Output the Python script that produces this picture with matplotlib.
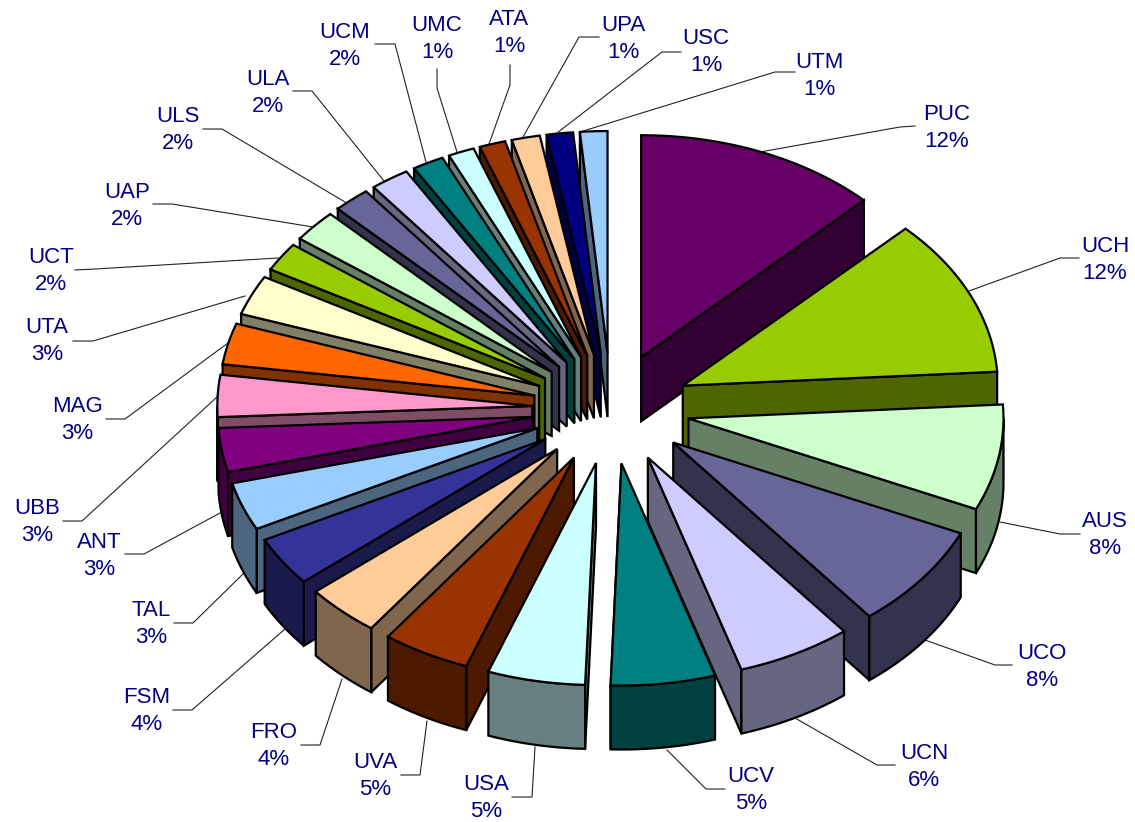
#!/usr/bin/env python3
import numpy as np
import matplotlib
matplotlib.use('Agg')
import matplotlib.pyplot as plt
from matplotlib.patches import Polygon

plt.rcParams['font.family'] = ['Liberation Sans', 'DejaVu Sans']

# data, clockwise from 12 o'clock
names = ['PUC', 'UCH', 'AUS', 'UCO', 'UCN', 'UCV', 'USA', 'UVA', 'FRO', 'FSM', 'TAL', 'ANT', 'UBB',
         'MAG', 'UTA', 'UCT', 'UAP', 'ULS', 'ULA', 'UCM', 'UMC', 'ATA', 'UPA', 'USC', 'UTM']
values = [12.5, 11.5, 7.7, 7.6, 5.9, 5.35, 5.0, 4.5, 3.85, 3.6, 3.5, 3.2, 3.05,
          3.0, 2.9, 2.1, 2.35, 1.9, 2.0, 1.62, 1.34, 1.34, 1.45, 1.35, 1.4]
pct_labels = ['12%', '12%', '8%', '8%', '6%', '5%', '5%', '5%', '4%', '4%', '3%', '3%', '3%',
              '3%', '3%', '2%', '2%', '2%', '2%', '2%', '1%', '1%', '1%', '1%', '1%']
colors = ['#660066', '#99CC00', '#CCFFCC', '#666699', '#CCCCFF', '#008080', '#CCFFFF', '#993300',
          '#FFCC99', '#333399', '#99CCFF', '#800080', '#FF99CC', '#FF6600', '#FFFFCC', '#99CC00',
          '#CCFFCC', '#666699', '#CCCCFF', '#008080', '#CCFFFF', '#993300', '#FFCC99', '#000080',
          '#99CCFF']

# layout in pixels
CX, CY = 611, 408.5
RX, RY = 315, 222
EXPLODE = 0.25
DEPTH = 64
label_xy = [(947, 128), (1105, 260), (1105, 535), (1042, 667), (924, 767), (751, 790), (486, 798),
            (375, 776), (274, 746), (147, 711), (151, 624), (99, 556), (37, 522), (77, 420),
            (47, 341), (51, 271), (127, 206), (178, 130), (268, 93), (345, 46), (437, 39),
            (509, 33), (623, 39), (706, 52), (819, 76)]
leaders = [
    [(915, 126), (900, 127), (760, 152)], [(1079, 258), (1060, 258), (969, 291)],
    [(1080, 534), (1060, 534), (1000, 522)], [(1012, 665), (995, 665), (925, 640)],
    [(895, 765), (877, 765), (795, 718)], [(725, 789), (706, 789), (667, 750)],
    [(512, 797), (532, 797), (535, 747)], [(401, 775), (420, 775), (427, 721)],
    [(301, 745), (320, 745), (342, 679)], [(173, 710), (192, 710), (285, 629)],
    [(174, 623), (193, 623), (243, 574)], [(125, 554), (144, 554), (220, 513)],
    [(63, 521), (82, 521), (217, 397)], [(106, 419), (125, 419), (228, 343)],
    [(73, 341), (93, 341), (245, 296)], [(75, 270), (95, 269), (278, 258)],
    [(153, 204), (172, 204), (313, 227)], [(203, 129), (222, 129), (345, 202)],
    [(293, 91), (312, 91), (384, 181)], [(375, 44), (395, 44), (426, 162)],
    [(437, 69), (437, 88), (457, 152)], [(510, 65), (510, 85), (489, 144)],
    [(599, 37), (579, 37), (523, 137)], [(681, 52), (662, 52), (557, 133)],
    [(795, 72), (775, 72), (580, 132)],
]

fig = plt.figure(figsize=(11.35, 8.22), dpi=100)
ax = fig.add_axes([0, 0, 1, 1])
ax.set_xlim(0, 1135)
ax.set_ylim(822, 0)
ax.axis('off')


def arc(x0, y0, t1, t2, n=40):
    t = np.linspace(t1, t2, n)
    return np.column_stack([x0 + RX * np.sin(t), y0 - RY * np.cos(t)])


def darker(c):
    return tuple(v * 0.5 for v in matplotlib.colors.to_rgb(c))


def draw_slice(i, t1, t2, z):
    tm = (t1 + t2) / 2
    x0 = CX + EXPLODE * RX * np.sin(tm)
    y0 = CY - EXPLODE * RY * np.cos(tm)
    kw = dict(edgecolor='black', linewidth=1.6, joinstyle='miter', zorder=z)
    wall = darker(colors[i])
    down = np.array([0, DEPTH])
    apex = np.array([x0, y0])

    # radial wall, only the one that faces the viewer
    edge_t = t2 if tm < np.pi else t1
    outer = np.array([x0 + RX * np.sin(edge_t), y0 - RY * np.cos(edge_t)])
    ax.add_patch(Polygon([apex, outer, outer + down, apex + down], facecolor=wall, **kw))

    # outer wall, front half only
    a1, a2 = max(t1, np.pi / 2), min(t2, 3 * np.pi / 2)
    if a2 > a1:
        rim = arc(x0, y0, a1, a2)
        ax.add_patch(Polygon(np.vstack([rim, (rim + down)[::-1]]), facecolor=wall, **kw))

    top = np.vstack([apex, arc(x0, y0, t1, t2)])
    ax.add_patch(Polygon(top, facecolor=colors[i], **kw))


for line in leaders:
    xs, ys = zip(*line)
    ax.plot(xs, ys, color='#222222', lw=0.8, zorder=1)

edges = np.cumsum([0] + values) / sum(values) * 2 * np.pi
mids = (edges[:-1] + edges[1:]) / 2
order = np.argsort(-np.cos(mids))
for rank, i in enumerate(order):
    draw_slice(i, edges[i], edges[i + 1], 2 + rank)

for name, pct, (x, y) in zip(names, pct_labels, label_xy):
    ax.text(x, y, name + '\n' + pct, color='#000080', fontsize=16, ha='center', va='center',
            linespacing=1.43, zorder=100)

fig.savefig('out.png', dpi=100)
